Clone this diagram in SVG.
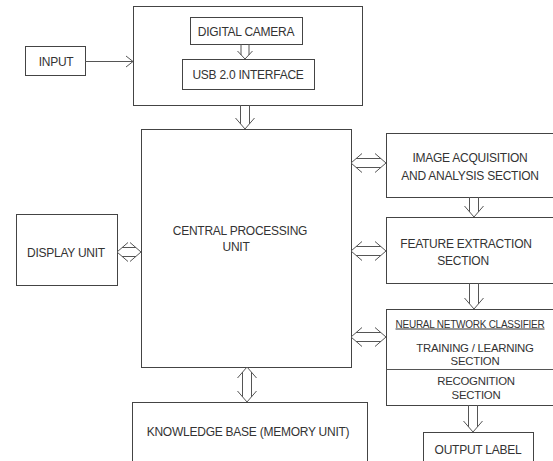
<svg xmlns="http://www.w3.org/2000/svg" width="553" height="461" viewBox="0 0 553 461">
<style>
.box{fill:#fff;stroke:#444;stroke-width:1}
.ln{fill:none;stroke:#555;stroke-width:1}
text{font-family:"Liberation Sans",Arial,sans-serif;font-size:12px;letter-spacing:-0.25px;fill:#333;text-anchor:middle}
.sm{font-size:11.4px}
.xs{font-size:10px;text-decoration:underline}
</style>
<rect width="553" height="461" fill="#fff"/>
<g id="input"><rect class="box" x="25.5" y="46.5" width="60" height="29"/><text x="56" y="65.5">INPUT</text></g>
<g id="capture"><rect class="box" x="133.5" y="6.5" width="229" height="99"/></g>
<g id="camera"><rect class="box" x="190.5" y="17.5" width="112" height="27"/><text x="246" y="35.5">DIGITAL CAMERA</text></g>
<g id="usb"><rect class="box" x="182.5" y="59.5" width="132" height="30"/><text x="248" y="78.5">USB 2.0 INTERFACE</text></g>
<g id="cpu"><rect class="box" x="141.5" y="129.5" width="210" height="238"/><text x="240" y="234.5">CENTRAL PROCESSING</text><text x="236" y="250.5">UNIT</text></g>
<g id="display"><rect class="box" x="16.5" y="214.5" width="101" height="71"/><text x="66" y="256.5">DISPLAY UNIT</text></g>
<g id="knowledge"><rect class="box" x="132.5" y="402.5" width="235" height="70"/><text x="248" y="435.5">KNOWLEDGE BASE (MEMORY UNIT)</text></g>
<g id="acquisition"><rect class="box" x="386.5" y="133.5" width="180" height="64"/><text x="470" y="161.5">IMAGE ACQUISITION</text><text x="470" y="179.5">AND ANALYSIS SECTION</text></g>
<g id="feature"><rect class="box" x="386.5" y="217.5" width="180" height="66"/><text x="466" y="247.5">FEATURE EXTRACTION</text><text x="463" y="264.5">SECTION</text></g>
<g id="classifier"><rect class="box" x="386.5" y="309.5" width="180" height="96"/><line class="ln" x1="386.5" y1="369.5" x2="566" y2="369.5"/><text class="xs" x="470" y="327.5">NEURAL NETWORK CLASSIFIER</text><text class="sm" x="475" y="352">TRAINING / LEARNING</text><text class="sm" x="475" y="364.5">SECTION</text><text class="sm" x="476" y="385">RECOGNITION</text><text class="sm" x="476" y="398.5">SECTION</text></g>
<g id="output"><rect class="box" x="423.5" y="432.5" width="110" height="40"/><text x="478" y="453.5">OUTPUT LABEL</text></g>
<g id="connectors" class="ln">
<path d="M85 61.5H133 M126 56L133 61.5L126 67"/>
<path d="M241 44V55 M249 44V55 M237.5 51L245 59L252.5 51"/>
<path d="M240.5 105V124 M249.5 105V124 M235.5 118L245 129L254.5 118"/>
<path d="M242.5 372V397 M251.5 372V397 M237.5 378L247 367L256.5 378 M237.5 391L247 402L256.5 391"/>
<path d="M128 242.5L117 252L128 261.5 M130 242.5L141 252L130 261.5 M122 247.5H136 M122 256.5H136"/>
<path d="M362 153.5L351 163L362 172.5 M375 153.5L386 163L375 172.5 M356 158.5H381 M356 167.5H381"/>
<path d="M362 241.5L351 251L362 260.5 M375 241.5L386 251L375 260.5 M356 246.5H381 M356 255.5H381"/>
<path d="M362 327.5L351 337L362 346.5 M375 327.5L386 337L375 346.5 M356 332.5H381 M356 341.5H381"/>
<path d="M469.5 197V212 M478.5 197V212 M464.5 206L474 217L483.5 206"/>
<path d="M469.5 283V304 M478.5 283V304 M464.5 298L474 309L483.5 298"/>
<path d="M468.5 405V427 M477.5 405V427 M463.5 421L473 432L482.5 421"/>
</g>
</svg>
